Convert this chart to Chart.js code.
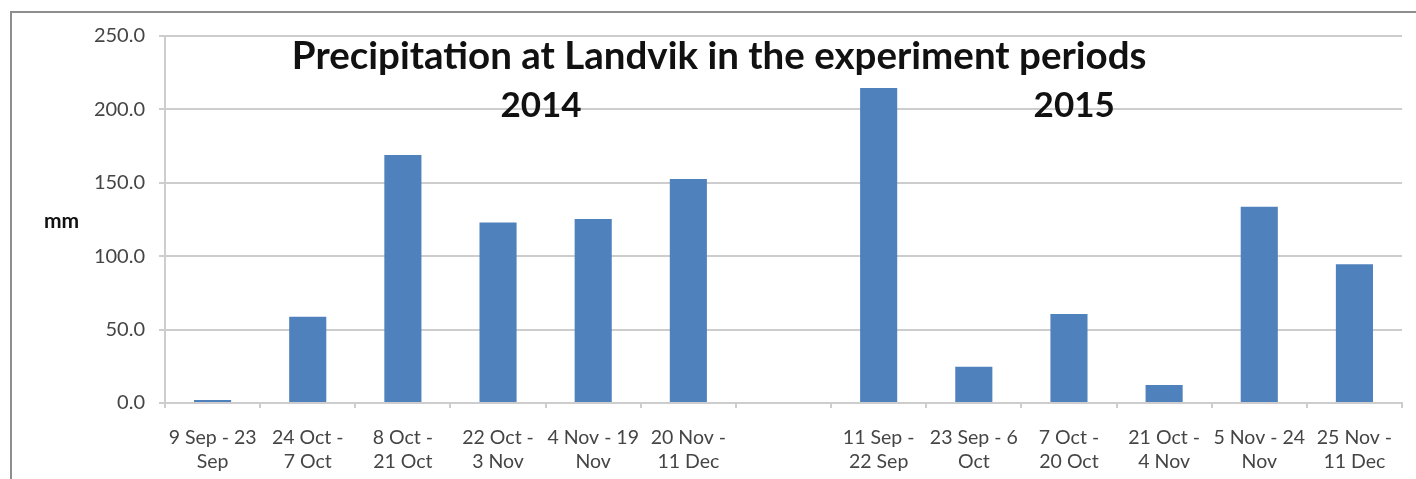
<!DOCTYPE html>
<html>
<head>
<meta charset="utf-8">
<title>Precipitation at Landvik</title>
<script src="https://cdn.jsdelivr.net/npm/chart.js@4/dist/chart.umd.min.js"></script>
<style>
  html, body { margin: 0; padding: 0; background: #ffffff; overflow: hidden; }
  #wrap { position: relative; width: 1416px; height: 479px; }
  #frame {
    position: absolute; left: 10px; top: 11px; width: 1500px; height: 600px;
    border: 2px solid #8e8e8e; box-sizing: border-box;
  }
  #chart { position: absolute; left: 0; top: 0; }
</style>
</head>
<body>
<div id="wrap">
  <div id="frame"></div>
  <canvas id="chart" width="1416" height="479"></canvas>
</div>
<script>
// Experiment periods (two-line tick labels); the empty entry separates 2014 from 2015
const periods = [
  ['9 Sep - 23', 'Sep'],
  ['24 Oct -', '7 Oct'],
  ['8 Oct -', '21 Oct'],
  ['22 Oct -', '3 Nov'],
  ['4 Nov - 19', 'Nov'],
  ['20 Nov -', '11 Dec'],
  ['', ''],
  ['11 Sep -', '22 Sep'],
  ['23 Sep - 6', 'Oct'],
  ['7 Oct -', '20 Oct'],
  ['21 Oct -', '4 Nov'],
  ['5 Nov - 24', 'Nov'],
  ['25 Nov -', '11 Dec']
];

// Precipitation per period, mm
const precipitation = [2.0, 58.8, 169.0, 123.0, 125.3, 152.6, null, 214.6, 24.7, 60.6, 12.3, 133.7, 94.5];

// Value axis ticks
const yTicks = [0, 50, 100, 150, 200, 250];

const chartTitle = 'Precipitation at Landvik in the experiment periods';
const yearLabels = ['2014', '2015'];
const unitLabel = 'mm';

const gridColor = '#cdcdcd';
const textColor = '#454545';
const tickFont = { family: 'Lato', size: 19.5, lineHeight: 1.27 };

// Title, year captions and unit label drawn over the plot
const annotations = {
  id: 'annotations',
  afterDraw(chart) {
    const { ctx, chartArea } = chart;
    const w = chartArea.right - chartArea.left;
    ctx.save();
    ctx.fillStyle = '#111111';
    ctx.textAlign = 'center';
    ctx.textBaseline = 'alphabetic';
    ctx.font = 'bold 38.5px Lato';
    ctx.fillText(chartTitle, chartArea.left + w * 0.448, chartArea.top + 33);
    ctx.font = 'bold 35px Lato';
    ctx.fillText(yearLabels[0], chartArea.left + w * 0.304, chartArea.top + 81);
    ctx.fillText(yearLabels[1], chartArea.left + w * 0.735, chartArea.top + 81);
    ctx.font = 'bold 21px Lato';
    ctx.textAlign = 'left';
    ctx.fillText(unitLabel, 44, 228);
    ctx.restore();
  }
};

new Chart(document.getElementById('chart'), {
  type: 'bar',
  data: {
    labels: periods,
    datasets: [{
      label: 'Precipitation (mm)',
      data: precipitation,
      backgroundColor: '#4f81bd',
      borderWidth: 0,
      barPercentage: 0.39,
      categoryPercentage: 1.0
    }]
  },
  options: {
    responsive: false,
    animation: false,
    devicePixelRatio: 1,
    layout: { padding: { top: 36, right: 14, bottom: 0, left: 0 } },
    plugins: {
      legend: { display: false },
      tooltip: { enabled: false },
      title: { display: false }
    },
    scales: {
      x: {
        afterFit(scale) { scale.height = 76; },
        grid: {
          offset: true,
          drawOnChartArea: false,
          drawTicks: true,
          tickLength: 5,
          color: gridColor,
          lineWidth: 2
        },
        border: { display: true, color: gridColor, width: 2 },
        ticks: {
          autoSkip: false,
          maxRotation: 0,
          minRotation: 0,
          padding: 17,
          color: textColor,
          font: tickFont
        }
      },
      y: {
        min: 0,
        max: 250,
        afterFit(scale) { scale.width = 165; },
        afterBuildTicks(scale) { scale.ticks = yTicks.map(v => ({ value: v })); },
        grid: {
          color: gridColor,
          lineWidth: 2,
          drawTicks: true,
          tickLength: 6
        },
        border: { display: true, color: gridColor, width: 2 },
        ticks: {
          padding: 14,
          color: textColor,
          font: { family: 'Lato', size: 20 },
          callback: (v) => Number(v).toFixed(1)
        }
      }
    }
  },
  plugins: [annotations]
});
</script>
</body>
</html>
